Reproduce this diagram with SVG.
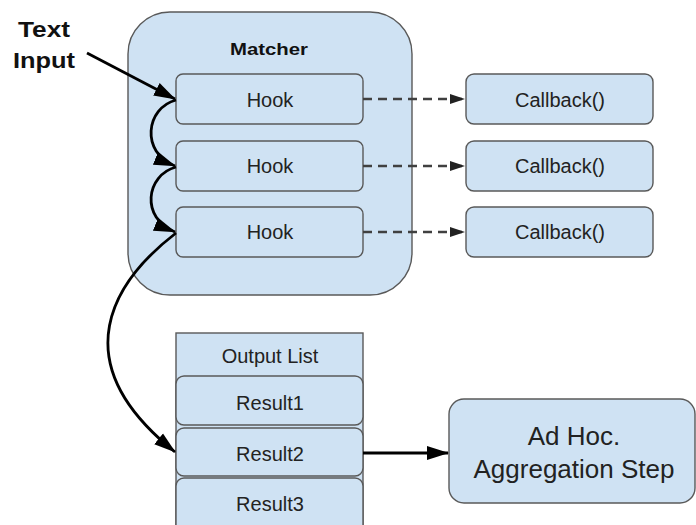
<svg xmlns="http://www.w3.org/2000/svg" width="696" height="525" viewBox="0 0 696 525">
  <style>
    .box { fill: #cfe2f3; stroke: #595959; stroke-width: 1.4; }
    .lbl { font-family: "Liberation Sans", Arial, sans-serif; font-size: 20px; fill: #222; text-anchor: middle; }
    .big { font-size: 26px; }
    .bold { font-family: "Liberation Sans", Arial, sans-serif; font-weight: bold; fill: #111; text-anchor: middle; }
    .flow { fill: none; stroke: #000; stroke-width: 2.8; }
    .call { fill: none; stroke: #404040; stroke-width: 2.6; stroke-dasharray: 9 6; }
  </style>
  <defs>
    <marker id="head" markerUnits="userSpaceOnUse" markerWidth="22" markerHeight="16" viewBox="0 0 22 16" refX="21" refY="8" orient="auto">
      <path d="M0,1 L22,8 L0,15 Z" fill="#000"/>
    </marker>
    <marker id="headSmall" markerUnits="userSpaceOnUse" markerWidth="15" markerHeight="11" viewBox="0 0 15 11" refX="15" refY="5.5" orient="auto">
      <path d="M0,0.5 L15,5.5 L0,10.5 Z" fill="#222"/>
    </marker>
  </defs>

  <!-- input label -->
  <g id="text-input">
    <text class="bold" x="44" y="37" font-size="22" textLength="52" lengthAdjust="spacingAndGlyphs">Text</text>
    <text class="bold" x="44" y="68" font-size="22" textLength="62" lengthAdjust="spacingAndGlyphs">Input</text>
  </g>

  <!-- matcher container -->
  <g id="matcher">
    <rect class="box" x="128" y="12" width="284" height="283" rx="42"/>
    <text class="bold" x="269" y="55" font-size="17" textLength="78" lengthAdjust="spacingAndGlyphs">Matcher</text>
  </g>

  <g id="hook1">
    <rect class="box" x="176" y="74" width="187" height="50" rx="7"/>
    <text class="lbl" x="270" y="107">Hook</text>
  </g>
  <g id="hook2">
    <rect class="box" x="176" y="141" width="187" height="50" rx="7"/>
    <text class="lbl" x="270" y="173">Hook</text>
  </g>
  <g id="hook3">
    <rect class="box" x="176" y="207" width="187" height="50" rx="7"/>
    <text class="lbl" x="270" y="239">Hook</text>
  </g>

  <g id="callback1">
    <rect class="box" x="466" y="74" width="187" height="50" rx="8"/>
    <text class="lbl" x="560" y="107">Callback()</text>
  </g>
  <g id="callback2">
    <rect class="box" x="466" y="141" width="187" height="50" rx="8"/>
    <text class="lbl" x="560" y="173">Callback()</text>
  </g>
  <g id="callback3">
    <rect class="box" x="466" y="207" width="187" height="50" rx="8"/>
    <text class="lbl" x="560" y="239">Callback()</text>
  </g>

  <!-- output list stack -->
  <g id="output-list">
    <rect class="box" x="176" y="333" width="187" height="200"/>
    <text class="lbl" x="270" y="363">Output List</text>
  </g>
  <g id="result1">
    <rect class="box" x="176" y="376" width="187" height="49" rx="8"/>
    <text class="lbl" x="270" y="410">Result1</text>
  </g>
  <g id="result2">
    <rect class="box" x="176" y="428" width="187" height="48" rx="8"/>
    <text class="lbl" x="270" y="461">Result2</text>
  </g>
  <g id="result3">
    <rect class="box" x="176" y="478" width="187" height="60" rx="8"/>
    <text class="lbl" x="270" y="511">Result3</text>
  </g>

  <g id="aggregation">
    <rect class="box" x="449" y="399" width="246" height="104" rx="15"/>
    <text class="lbl big" x="574" y="445">Ad Hoc.</text>
    <text class="lbl big" x="574" y="478">Aggregation Step</text>
  </g>

  <!-- connectors -->
  <g id="connectors">
    <path class="flow" d="M87,53 L175,99" marker-end="url(#head)"/>
    <path class="flow" d="M176,100 C146,108 140,152 175,166" marker-end="url(#head)"/>
    <path class="flow" d="M176,167 C146,175 140,218 175,232" marker-end="url(#head)"/>
    <path class="flow" d="M176,233 C115,280 60,360 175,452" marker-end="url(#head)"/>
    <path class="flow" d="M363,453 L448,453" marker-end="url(#head)"/>
    <path class="call" d="M363,99 L465,99" marker-end="url(#headSmall)"/>
    <path class="call" d="M363,166 L465,166" marker-end="url(#headSmall)"/>
    <path class="call" d="M363,232 L465,232" marker-end="url(#headSmall)"/>
  </g>
</svg>
